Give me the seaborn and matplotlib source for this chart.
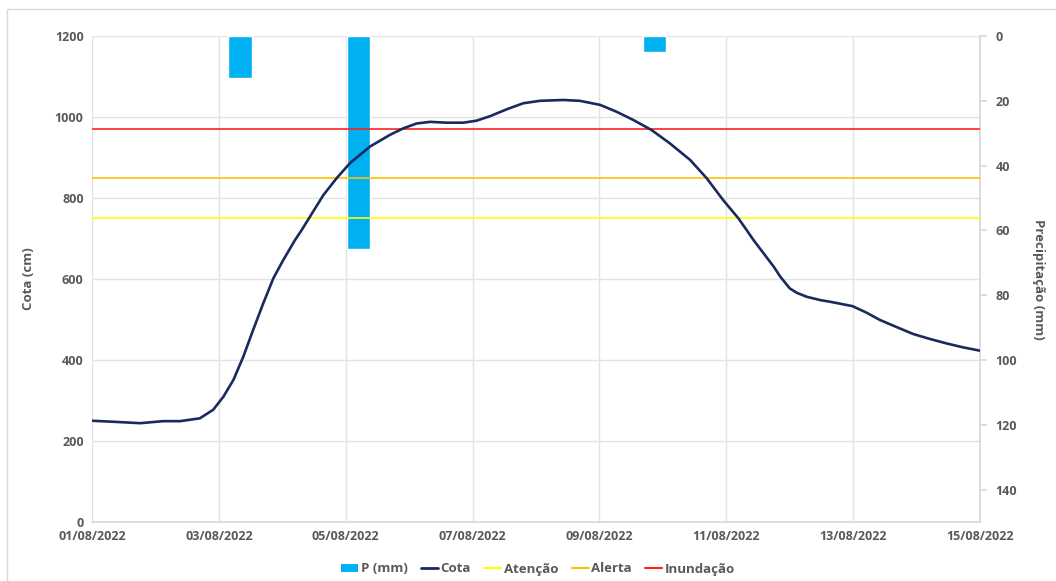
import matplotlib
matplotlib.use("Agg")
import matplotlib.pyplot as plt
import matplotlib.dates as mdates
from matplotlib.patches import Rectangle, Patch
from matplotlib.lines import Line2D
import seaborn as sns
import pandas as pd

sns.set_theme(style="white")
plt.rcParams['font.family'] = ['Open Sans', 'DejaVu Sans']

# ---------------- data ----------------
inicio = "2022-08-01"
# days since 01/08/2022 and water level (cm)
dia_cota = [0.00, 0.40, 0.76, 1.12, 1.39, 1.70, 1.91, 2.07, 2.23, 2.385, 2.54, 2.70,
            2.86, 3.016, 3.20, 3.306, 3.437, 3.647, 3.857, 4.067, 4.383, 4.698, 4.908,
            5.119, 5.33, 5.592, 5.854, 6.065, 6.275, 6.538, 6.80, 7.063, 7.43, 7.69,
            8.009, 8.27, 8.53, 8.82, 9.11, 9.43, 9.69, 9.95, 10.19, 10.32, 10.43,
            10.75, 10.85, 11.00, 11.11, 11.27, 11.48, 11.63, 11.99, 12.21, 12.42,
            12.69, 12.95, 13.21, 13.47, 13.74, 14.00]
cota = [250, 247, 244, 249, 249, 256, 277, 309, 351, 408, 474, 540,
        602, 647, 696, 721, 754, 807, 849, 886, 927, 956, 972,
        984, 988, 986, 986, 991, 1002, 1019, 1034, 1040, 1042, 1040,
        1030, 1013, 993, 968, 935, 894, 849, 795, 750, 721, 696,
        630, 606, 577, 566, 556, 548, 544, 533, 517, 499,
        481, 464, 452, 441, 431, 423]
# rainfall events
data_chuva = ["2022-08-03 08:00", "2022-08-05 04:45", "2022-08-09 20:45"]
chuva_mm = [12.9, 65.8, 4.8]
# reference levels (cm)
atencao = 750
alerta = 850
inundacao = 970
tick_datas = ["2022-08-01", "2022-08-03", "2022-08-05", "2022-08-07",
              "2022-08-09", "2022-08-11", "2022-08-13", "2022-08-15"]
cota_ticks = [0, 200, 400, 600, 800, 1000, 1200]
chuva_ticks = [0, 20, 40, 60, 80, 100, 120, 140]

# ---------------- figure ----------------
base = pd.Timestamp(inicio)
df = pd.DataFrame({"data": base + pd.to_timedelta(dia_cota, unit="D"), "cota": cota})
chuva_dt = pd.to_datetime(data_chuva)

gray = "#595959"
grid = "#e3e3e3"
fig = plt.figure(figsize=(10.56, 5.81), dpi=100)
fig.patches.append(Rectangle((7 / 1056, -0.1), 1.2, 1.1 - 9 / 581,
                             transform=fig.transFigure, fill=False,
                             edgecolor="#d9d9d9", lw=1.0))
ax = fig.add_axes([92 / 1056, 1 - 522 / 581, (980 - 92) / 1056, (522 - 36) / 581])
xmin, xmax = pd.Timestamp("2022-08-01"), pd.Timestamp("2022-08-15")

ax.set_xlim(xmin, xmax)
ax.set_ylim(0, 1200)
ax.set_yticks(cota_ticks)
ax.set_xticks(pd.to_datetime(tick_datas))
ax.xaxis.set_major_formatter(mdates.DateFormatter("%d/%m/%Y"))
ax.grid(True, color=grid, lw=1.0)
for s in ["top", "right", "left"]:
    ax.spines[s].set_visible(False)
ax.spines["bottom"].set_color("#d9d9d9")
ax.tick_params(axis="both", length=0, labelsize=9, labelcolor=gray, pad=6)
for lab in ax.get_xticklabels() + ax.get_yticklabels():
    lab.set_fontweight("bold")
ax.set_ylabel("Cota (cm)", fontsize=9.5, fontweight="bold", color=gray, labelpad=14)

# bars on the secondary (inverted) axis
ax2 = ax.twinx()
ax2.bar(chuva_dt, chuva_mm, width=0.367, color="#00B0F0", align="center", zorder=2)
ax2.set_ylim(150, 0)
ax2.set_xlim(xmin, xmax)
ax2.set_yticks(chuva_ticks)
for s in ["top", "left", "bottom"]:
    ax2.spines[s].set_visible(False)
ax2.spines["right"].set_color("#d9d9d9")
ax2.tick_params(axis="y", length=5, color="#d9d9d9", labelsize=9, labelcolor=gray, pad=6)
for lab in ax2.get_yticklabels():
    lab.set_fontweight("bold")
ax2.set_ylabel("Precipitação (mm)", fontsize=9.5, fontweight="bold", color=gray,
               rotation=-90, labelpad=20)
ax2.grid(False)

# lines on a third axis sharing the left scale
ax3 = ax.twinx()
ax3.set_ylim(0, 1200)
ax3.set_xlim(xmin, xmax)
ax3.axis("off")
ax3.axhline(atencao, color="#FFFF00", lw=1.2)
ax3.axhline(alerta, color="#FFC000", lw=1.2)
ax3.axhline(inundacao, color="#FF2020", lw=1.2)
sns.lineplot(data=df, x="data", y="cota", ax=ax3, color="#1B2A5E", lw=1.9)
ax3.set_xlim(xmin, xmax)
ax3.set_ylim(0, 1200)

handles = [Patch(facecolor="#00B0F0", edgecolor="none"),
           Line2D([], [], color="#1B2A5E", lw=2.0),
           Line2D([], [], color="#FFFF00", lw=1.5),
           Line2D([], [], color="#FFC000", lw=1.5),
           Line2D([], [], color="#FF2020", lw=1.5)]
labels = ["P (mm)", "Cota", "Atenção", "Alerta", "Inundação"]
leg = fig.legend(handles, labels, loc="center", bbox_to_anchor=(538 / 1056, 1 - 569 / 581),
                 ncol=5, frameon=False, fontsize=9.5, handlelength=1.3, handleheight=0.6,
                 handletextpad=0.2, columnspacing=1.0)
for t in leg.get_texts():
    t.set_color(gray)
    t.set_fontweight("bold")

fig.savefig("out.png", dpi=100)
